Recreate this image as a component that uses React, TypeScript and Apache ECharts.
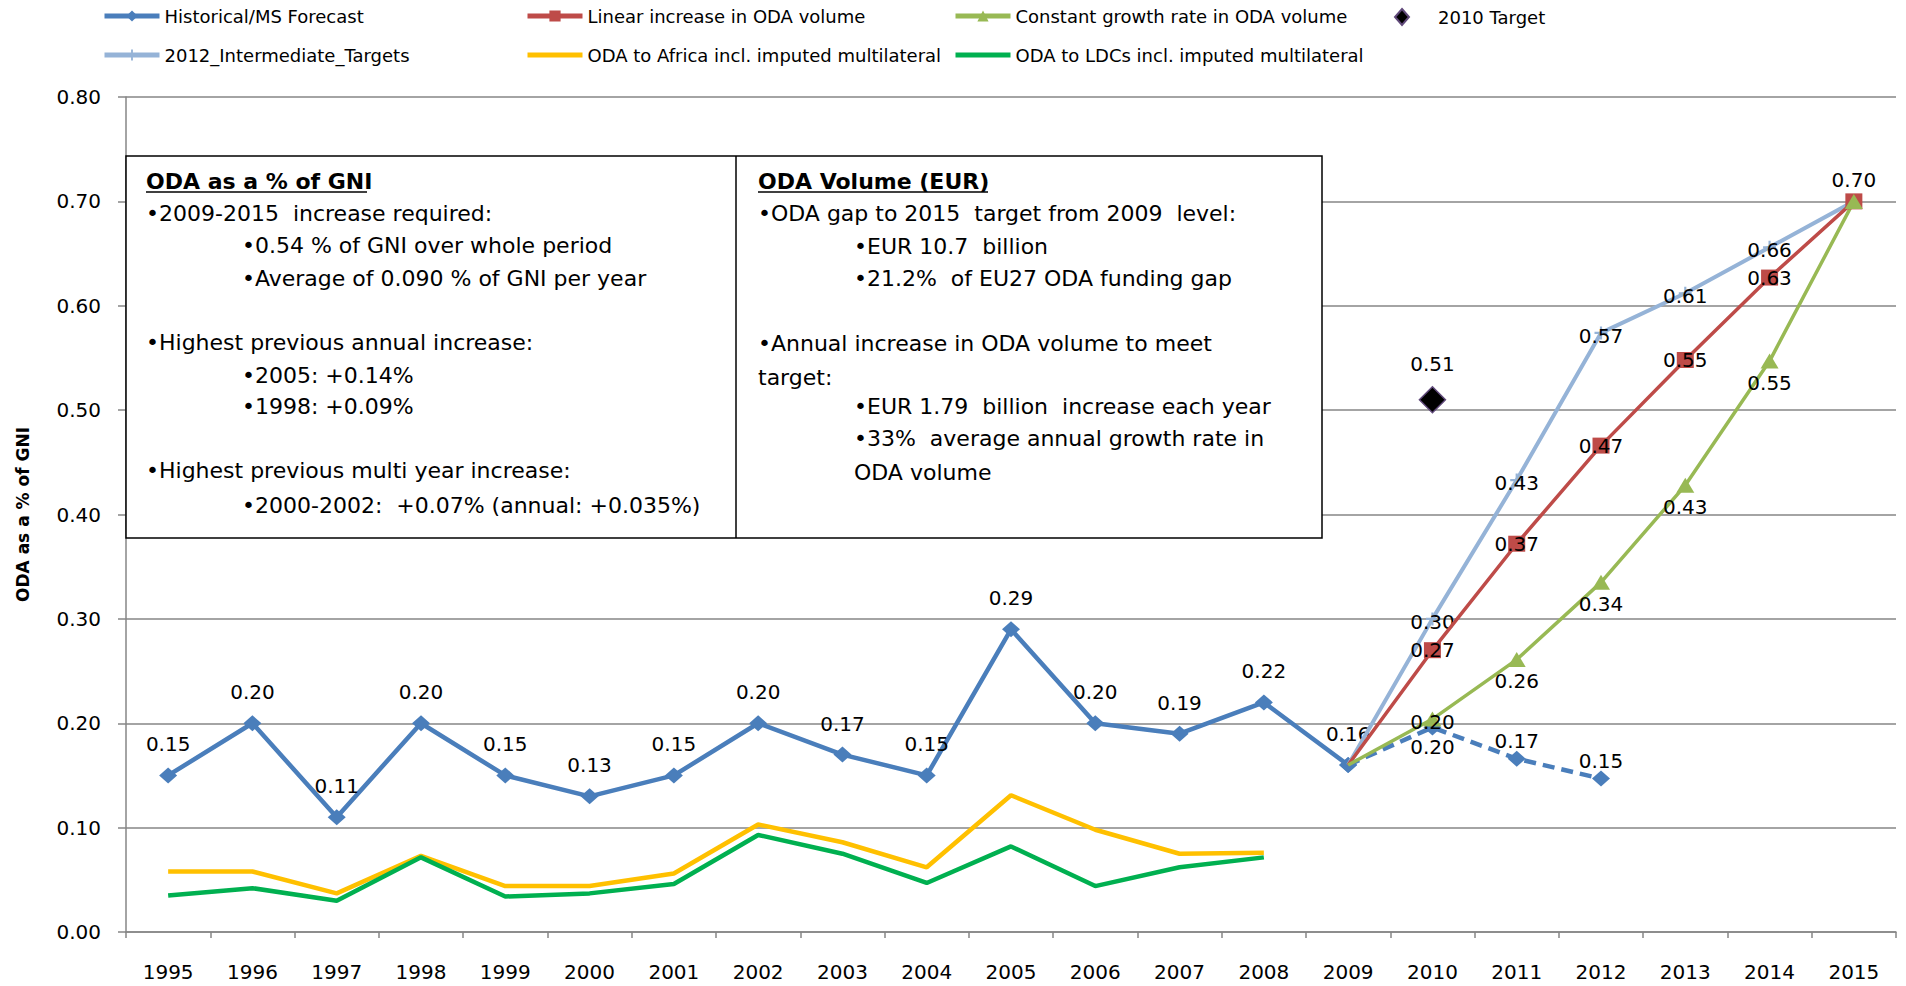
import React, { useEffect, useRef } from "react";
import * as echarts from "echarts";

const years = ["1995","1996","1997","1998","1999","2000","2001","2002","2003","2004","2005","2006","2007","2008","2009","2010","2011","2012","2013","2014","2015"];
// 1995-2009
const historical = [0.15, 0.20, 0.11, 0.20, 0.15, 0.13, 0.15, 0.20, 0.17, 0.15, 0.29, 0.20, 0.19, 0.22, 0.16];
// 2009-2012 (MS forecast, dashed)
const msForecast = [0.16, 0.196, 0.166, 0.147];
// 2009-2015 projections
const linearIncrease = [0.16, 0.27, 0.372, 0.466, 0.548, 0.627, 0.70];
const constantGrowth = [0.16, 0.204, 0.261, 0.335, 0.428, 0.547, 0.70];
const intermediateTargets = [0.16, 0.30, 0.433, 0.574, 0.612, 0.656, 0.70];
const target2010 = 0.51;
// 1995-2008
const africa = [0.058, 0.058, 0.037, 0.073, 0.044, 0.044, 0.056, 0.103, 0.086, 0.062, 0.131, 0.098, 0.075, 0.076];
const ldcs = [0.035, 0.042, 0.030, 0.0715, 0.034, 0.037, 0.046, 0.093, 0.075, 0.047, 0.082, 0.044, 0.062, 0.0715];

const yTicks = { min: 0, max: 0.8, interval: 0.1 };

const leftBox = [
  { t: "•2009-2015  increase required:", ind: false },
  { t: "•0.54 % of GNI over whole period", ind: true },
  { t: "•Average of 0.090 % of GNI per year", ind: true },
  { t: "•Highest previous annual increase:", ind: false },
  { t: "•2005: +0.14%", ind: true },
  { t: "•1998: +0.09%", ind: true },
  { t: "•Highest previous multi year increase:", ind: false },
  { t: "•2000-2002:  +0.07% (annual: +0.035%)", ind: true },
];
const leftY = [213, 245, 278, 342, 375, 406, 470, 505];
const rightBox = [
  { t: "•ODA gap to 2015  target from 2009  level:", ind: false },
  { t: "•EUR 10.7  billion", ind: true },
  { t: "•21.2%  of EU27 ODA funding gap", ind: true },
  { t: "•Annual increase in ODA volume to meet", ind: false },
  { t: "target:", ind: false },
  { t: "•EUR 1.79  billion  increase each year", ind: true },
  { t: "•33%  average annual growth rate in", ind: true },
  { t: "ODA volume", ind: true },
];
const rightY = [213, 246, 278, 343, 377, 406, 438, 472];

const BLUE = "#4A7EBB";
const RED = "#BE4B48";
const GREEN = "#98B954";
const LIGHT = "#95B3D7";
const YELLOW = "#FFC000";
const LDCGREEN = "#00B050";
const FONT = "DejaVu Sans";

const fmt = (p: any) => {
  const v = Array.isArray(p.value) ? p.value[1] : p.value;
  return Number(v).toFixed(2);
};

export default function App() {
  const ref = useRef<HTMLDivElement>(null);
  useEffect(() => {
    if (!ref.current) return;
    const chart = echarts.init(ref.current, undefined, { renderer: "svg" });
    const projStart = years.indexOf("2009");
    const lbl = { show: true, fontSize: 20, color: "#000", fontFamily: FONT, formatter: fmt };

    const histData = historical.map((v, i) => [years[i], v]);
    const fcData = msForecast.map((v, i) => {
      const item: any = { value: [years[projStart + i], v] };
      if (i === 0) item.label = { show: false };
      else if (i === 1) item.label = { position: "bottom", distance: 2 };
      else item.label = { position: "top", distance: 0 };
      return item;
    });
    const projData = (arr: number[], mid: any, last: any) =>
      arr.map((v, i) => {
        const item: any = { value: [years[projStart + i], v] };
        if (i === 0) { item.label = { show: false }; item.symbol = "none"; }
        else if (i === arr.length - 1) item.label = last;
        else if (mid && mid[i]) item.label = mid[i];
        return item;
      });

    const plus = "path://M5,0H7V5H12V7H7V12H5V7H0V5H5Z";
    const legText = { fontSize: 18, fontFamily: FONT, color: "#000", lineHeight: 20 };
    const legBase = {
      orient: "vertical", top: 6, itemGap: 19, itemWidth: 55, itemHeight: 14, padding: 0,
      textStyle: legText, selectedMode: false, lineStyle: { width: 5 },
    };
    const noSym = { itemStyle: { opacity: 0 } };

    const gText = (x: number, y: number, t: string, bold = false) => ({
      type: "text", x, y, z: 20,
      style: { text: t, fill: "#000", fontSize: 22, fontFamily: FONT, fontWeight: bold ? "bold" : "normal", textVerticalAlign: "middle", verticalAlign: "middle" },
    });

    const graphics: any[] = [
      { type: "rect", z: 15, shape: { x: 126, y: 156, width: 1196, height: 382 }, style: { fill: "#fff", stroke: "#000", lineWidth: 1.5 } },
      { type: "line", z: 16, shape: { x1: 736, y1: 156, x2: 736, y2: 538 }, style: { stroke: "#000", lineWidth: 1.5 } },
      gText(146, 181, "ODA as a % of GNI", true),
      { type: "line", z: 20, shape: { x1: 146, y1: 192, x2: 367, y2: 192 }, style: { stroke: "#000", lineWidth: 1.5 } },
      gText(758, 181, "ODA Volume (EUR)", true),
      { type: "line", z: 20, shape: { x1: 758, y1: 192, x2: 988, y2: 192 }, style: { stroke: "#000", lineWidth: 1.5 } },
      ...leftBox.map((r, i) => gText(r.ind ? 242 : 146, leftY[i], r.t)),
      ...rightBox.map((r, i) => gText(r.ind ? 854 : 758, rightY[i], r.t)),
    ];

    chart.setOption({
      animation: false,
      backgroundColor: "#fff",
      textStyle: { fontFamily: FONT },
      grid: { left: 126, right: 10, top: 97, bottom: 54, containLabel: false, outerBoundsMode: "none" },
      legend: [
        { ...legBase, left: 102, data: ["Historical/MS Forecast", "2012_Intermediate_Targets"] },
        { ...legBase, left: 525, data: ["Linear increase in ODA volume", { name: "ODA to Africa incl. imputed multilateral", ...noSym }] },
        { ...legBase, left: 953, data: ["Constant growth rate in ODA volume", { name: "ODA to LDCs incl. imputed multilateral", ...noSym }] },
        { ...legBase, left: 1394, top: 7, itemWidth: 14, itemHeight: 16, data: [{ name: "2010 Target", icon: "diamond" }], textStyle: { ...legText, padding: [0, 0, 0, 24] } },
      ],
      xAxis: {
        type: "category",
        data: years,
        boundaryGap: true,
        axisLine: { show: true, lineStyle: { color: "#868686", width: 1.5 } },
        axisTick: { show: true, length: 6, alignWithLabel: false, lineStyle: { color: "#868686", width: 1.5 } },
        axisLabel: { fontSize: 20, color: "#000", margin: 30, fontFamily: FONT },
        splitLine: { show: false },
      },
      yAxis: {
        type: "value",
        min: yTicks.min,
        max: yTicks.max,
        interval: yTicks.interval,
        name: "ODA as a % of GNI",
        nameLocation: "middle",
        nameRotate: 90,
        nameGap: 95,
        nameTextStyle: { fontSize: 17, fontWeight: "bold", color: "#000", fontFamily: FONT },
        axisLine: { show: true, lineStyle: { color: "#868686", width: 1.5 } },
        axisTick: { show: true, length: 8, lineStyle: { color: "#868686", width: 1.5 } },
        axisLabel: { fontSize: 20, color: "#000", margin: 25, fontFamily: FONT, formatter: (v: number) => v.toFixed(2) },
        splitLine: { show: true, lineStyle: { color: "#868686", width: 1.5 } },
      },
      graphic: { elements: graphics },
      series: [
        {
          name: "ODA to Africa incl. imputed multilateral", type: "line", z: 2,
          data: africa.map((v, i) => [years[i], v]), symbol: "circle", showSymbol: false,
          lineStyle: { color: YELLOW, width: 4.5 }, itemStyle: { color: YELLOW },
        },
        {
          name: "ODA to LDCs incl. imputed multilateral", type: "line", z: 2,
          data: ldcs.map((v, i) => [years[i], v]), symbol: "circle", showSymbol: false,
          lineStyle: { color: LDCGREEN, width: 4.5 }, itemStyle: { color: LDCGREEN },
        },
        {
          name: "Historical/MS Forecast", type: "line", z: 4,
          data: histData, symbol: "diamond", symbolSize: [18, 16],
          lineStyle: { color: BLUE, width: 4.5 }, itemStyle: { color: BLUE },
          label: { ...lbl, position: "top", distance: 13 },
        },
        {
          name: "Historical/MS Forecast", type: "line", z: 4,
          data: fcData, symbol: "diamond", symbolSize: [18, 16],
          lineStyle: { color: BLUE, width: 4.5, type: [12, 7] }, itemStyle: { color: BLUE },
          label: { ...lbl, position: "top" },
        },
        {
          name: "2012_Intermediate_Targets", type: "line", z: 5,
          data: projData(intermediateTargets, null, { show: false }),
          symbol: plus, symbolSize: 13,
          lineStyle: { color: LIGHT, width: 4 }, itemStyle: { color: LIGHT },
          label: { ...lbl, position: "inside", offset: [0, 3] },
        },
        {
          name: "Linear increase in ODA volume", type: "line", z: 6,
          data: projData(linearIncrease, null, { position: "top", distance: 3 }),
          symbol: "rect", symbolSize: [17, 16],
          lineStyle: { color: RED, width: 3.5 }, itemStyle: { color: RED },
          label: { ...lbl, position: "inside" },
        },
        {
          name: "Constant growth rate in ODA volume", type: "line", z: 6,
          data: projData(constantGrowth, { 1: { position: "inside", offset: [0, 3] } }, { show: false }),
          symbol: "triangle", symbolSize: [18, 15],
          lineStyle: { color: GREEN, width: 3.5 }, itemStyle: { color: GREEN },
          label: { ...lbl, position: "bottom", distance: 4 },
        },
        {
          name: "2010 Target", type: "scatter", z: 7,
          data: [["2010", target2010]], symbol: "diamond", symbolSize: 26,
          itemStyle: { color: "#000", borderColor: "#60497A", borderWidth: 1.5, opacity: 1 },
          label: { ...lbl, position: "top", distance: 12 },
        },
      ],
    });
    return () => chart.dispose();
  }, []);
  return <div ref={ref} style={{ position: "fixed", left: 0, top: 0, width: 1906, height: 986 }} />;
}
